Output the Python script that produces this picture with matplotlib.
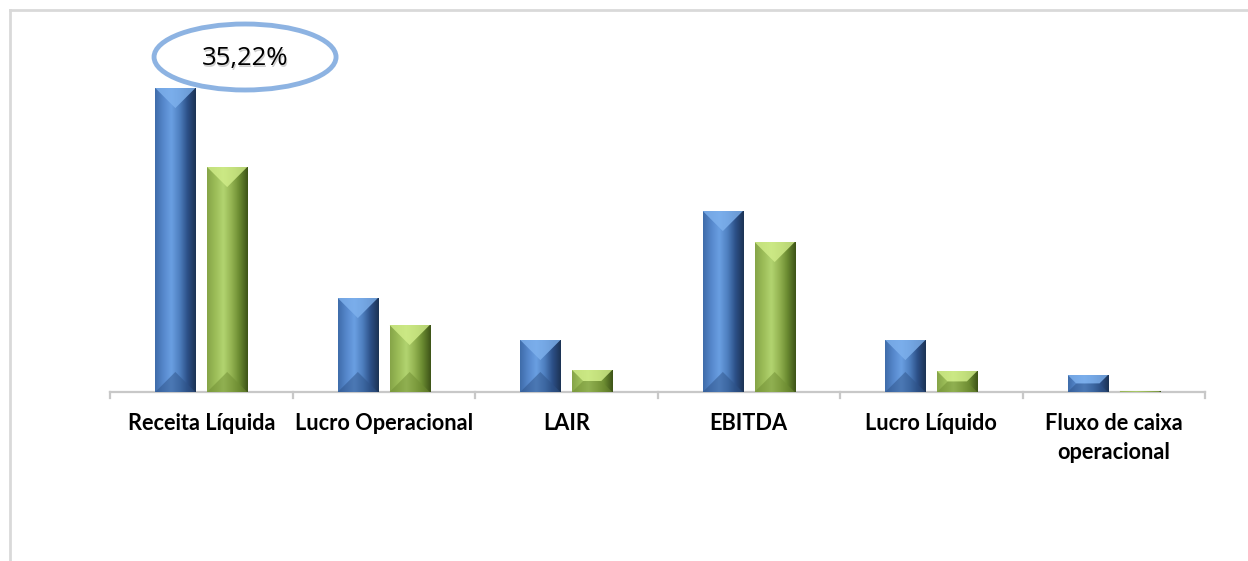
import matplotlib.pyplot as plt
import numpy as np
from matplotlib.patches import Polygon, Ellipse
from matplotlib.colors import LinearSegmentedColormap
from matplotlib.lines import Line2D

categorias = ['Receita Líquida', 'Lucro Operacional', 'LAIR', 'EBITDA',
              'Lucro Líquido', 'Fluxo de caixa\noperacional']
serie_azul = [304, 94, 52, 181, 52, 17]
serie_verde = [225, 67, 22, 150, 21, 1]
destaque = '35,22%'

W, H = 1248, 561
fig = plt.figure(figsize=(W / 100, H / 100), dpi=100)
ax = fig.add_axes([110 / W, (H - 392) / H, 1095 / W, 382 / H])
ax.set_xlim(-0.5, len(categorias) - 0.5)
ax.set_ylim(0, 382)
px_x = 1095 / len(categorias)   # pixels per x unit
px_y = 1.0                      # pixels per y unit

largura = 0.22
desloc = 0.142

grad_azul = LinearSegmentedColormap.from_list(
    'az', ['#3f6caa', '#5688cc', '#6a9fe2', '#4f80c0', '#2c5088', '#1c3355'])
grad_verde = LinearSegmentedColormap.from_list(
    'vd', ['#86a548', '#9cbd58', '#b2d470', '#94b452', '#6a8a30', '#3e5418'])
faces_azul = ('#7fb2ee', '#2e5388')
faces_verde = ('#d2ee8a', '#6f8d33')


def barra(rect, cmap, faces):
    x0, y0 = rect.get_x(), rect.get_y()
    w, h = rect.get_width(), rect.get_height()
    if h <= 0:
        return
    x1, y1 = x0 + w, y0 + h
    grad = np.linspace(0, 1, 64).reshape(1, -1)
    im = ax.imshow(grad, cmap=cmap, aspect='auto', extent=(x0, x1, y0, y1),
                   zorder=2, interpolation='bicubic')
    im.set_clip_path(rect)
    b = min(w * px_x / 2, h * px_y / 2)
    bx, by = b / px_x, b / px_y
    ix0, ix1 = x0 + bx, x1 - bx
    iy0, iy1 = y0 + by, y1 - by
    topo, base = faces
    ax.add_patch(Polygon([(x0, y1), (x1, y1), (ix1, iy1), (ix0, iy1)],
                         closed=True, fc=topo, ec='none', alpha=0.8, zorder=3))
    ax.add_patch(Polygon([(x0, y0), (x1, y0), (ix1, iy0), (ix0, iy0)],
                         closed=True, fc=base, ec='none', alpha=0.5, zorder=3))


x = np.arange(len(categorias))
b1 = ax.bar(x - desloc, serie_azul, largura, color='none', zorder=2)
b2 = ax.bar(x + desloc, serie_verde, largura, color='none', zorder=2)
for r in b1:
    barra(r, grad_azul, faces_azul)
for r in b2:
    barra(r, grad_verde, faces_verde)

for s in ax.spines.values():
    s.set_visible(False)
ax.set_yticks([])
ax.set_xticks([])
ax.axhline(0, color='#c8c8c8', lw=1.6, zorder=1, clip_on=False)
for xb in np.arange(-0.5, len(categorias), 1.0):
    ax.plot([xb, xb], [0, -6], color='#c8c8c8', lw=1.6, clip_on=False)

for i, c in enumerate(categorias):
    ax.text(i, -21, c, ha='center', va='top', fontsize=15.7, fontweight='bold',
            family=['Lato', 'DejaVu Sans'], linespacing=1.45, color='#000000')

# destaque
ax.add_patch(Ellipse((0.24, 335), 182 / px_x, 66, fill=False, ec='#8db3e2',
                     lw=3.5, clip_on=False, zorder=4))
ax.text(0.24 + 0.005, 333 - 1.5, destaque, ha='center', va='center', fontsize=18.5,
        family=['Open Sans', 'DejaVu Sans'], color='#d0d0d0', zorder=4)
ax.text(0.24, 333, destaque, ha='center', va='center', fontsize=18.5,
        family=['Open Sans', 'DejaVu Sans'], color='#000000', zorder=5)

# moldura do gráfico
fig.add_artist(Line2D([10 / W, 10 / W], [0, 1 - 10 / H], color='#d9d9d9', lw=2))
fig.add_artist(Line2D([10 / W, 1], [1 - 10 / H, 1 - 10 / H], color='#d9d9d9', lw=2))

fig.savefig('out.png', dpi=100)
